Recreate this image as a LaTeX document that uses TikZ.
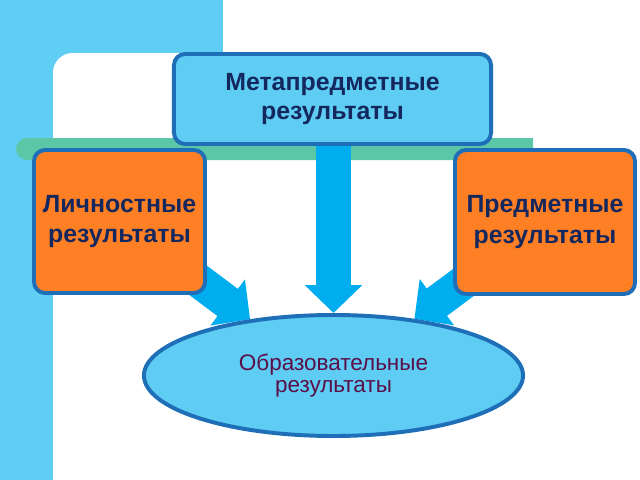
\documentclass[tikz,border=0pt]{standalone}
\usepackage{fontspec}
\setmainfont{Liberation Sans}
\usetikzlibrary{shapes.geometric, arrows.meta, backgrounds}
\definecolor{skyA}{HTML}{5FCDF4}
\definecolor{skyB}{HTML}{5ECCF3}
\definecolor{frameB}{HTML}{1E6EB8}
\definecolor{orangeA}{HTML}{FF7F24}
\definecolor{arrowB}{HTML}{00AEEF}
\definecolor{barG}{HTML}{5CC7A6}
\definecolor{navyT}{HTML}{14285E}
\definecolor{plumT}{HTML}{5B0F48}

\begin{document}
\begin{tikzpicture}[x=0.025cm, y=-0.025cm,
    box/.style={draw=frameB, line width=2.8pt, rounded corners=8pt, align=center,
                font=\fontsize{17.7}{20}\selectfont\bfseries, text=navyT},
    mid/.style={box, fill=skyB, minimum width=7.925cm, minimum height=2.25cm},
    side/.style={box, fill=orangeA, font=\fontsize{17.7}{21.5}\selectfont\bfseries},
    goal/.style={ellipse, draw=frameB, line width=2.8pt, fill=skyB, align=center,
                 minimum width=9.475cm, minimum height=3.025cm,
                 font=\fontsize{16}{15.8}\selectfont, text=plumT},
    fat/.style={arrowB, line width=0.85cm, -{Triangle[width=1.4cm, length=0.7cm]}}
  ]
  \useasboundingbox (0,0) rectangle (640,480);
  % boxes
  \node[mid] (meta) at (332.5,99) {Метапредметные\\результаты};
  \node[side, minimum width=4.275cm, minimum height=3.575cm] (lich) at (119.5,221.5) {Личностные\\результаты};
  \node[side, minimum width=4.5cm, minimum height=3.6cm] (pred) at (545,222) {Предметные\\результаты};
  \node[goal] (obr) at (333.5,375.5) {Образовательные\\результаты};

  \begin{scope}[on background layer]
    % frame
    \fill[white] (0,0) rectangle (640,480);
    \fill[skyA] (0,0) rectangle (223,80);
    \fill[skyA] (0,0) rectangle (53,480);
    \fill[white, rounded corners=14pt] (53,53) rectangle (660,500);
    \fill[barG, rounded corners=8pt] (533,138) -- (16,138) -- (16,160) -- (533,160);
    % arrows
    \draw[fat] (meta.south -| obr.north) -- (obr.north);
    \draw[fat] (lich.center) -- (obr.146);
    \draw[fat] (pred.center) -- (obr.35);
  \end{scope}
\end{tikzpicture}
\end{document}
